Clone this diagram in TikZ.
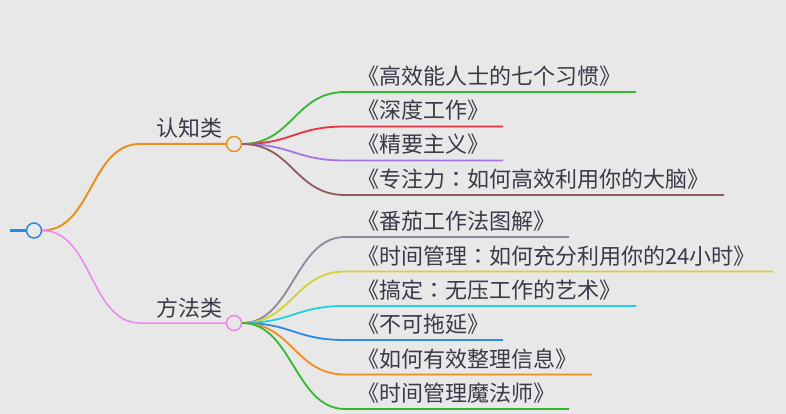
\documentclass[tikz,border=0pt]{standalone}
\usepackage{fontspec}
\newfontfamily\cjk{Noto Sans CJK SC}
\newfontfamily\cjktc{Noto Sans CJK TC}
\newcommand{\zcolon}{{\cjktc ：}}
\definecolor{bg}{HTML}{E8E8E8}
\definecolor{txt}{HTML}{3A3A48}
\definecolor{rootblue}{HTML}{2A8AE0}
\definecolor{corange}{HTML}{E8921E}
\definecolor{cpink}{HTML}{EC88EC}
\definecolor{kgreen}{HTML}{33B833}
\definecolor{kred}{HTML}{E8323E}
\definecolor{kpurple}{HTML}{A474E8}
\definecolor{kbrown}{HTML}{8E5A5A}
\definecolor{kgray}{HTML}{8A8A9C}
\definecolor{kyellow}{HTML}{D2D232}
\definecolor{kcyan}{HTML}{22D0E2}
\definecolor{kblue}{HTML}{2A8AE8}
\definecolor{korange}{HTML}{EE8E1C}
\tikzset{
  dot/.style={circle, draw, line width=1.5pt, minimum size=15pt, inner sep=0pt, fill=bg},
  book/.style={anchor=base west, inner sep=0pt, text=txt, font=\cjk\fontsize{22}{26}\selectfont},
  cat/.style={anchor=base east, inner sep=0pt, text=txt, font=\cjk\fontsize{22}{26}\selectfont},
  link/.style={out=0, in=180, distance=50pt},
  kline/.style={line width=1.8pt},
}
\begin{document}
\begin{tikzpicture}[x=1pt, y=-1pt]
\useasboundingbox[fill=bg] (0,0) rectangle (786,414);
% root
\coordinate (rs) at (10,230.5);
\node[dot, draw=rootblue] (root) at (34,230.5) {};
\draw[rootblue, line width=3pt] (rs) -- (root.west);
% categories
\node[dot, draw=corange] (c1) at (234,144) {};
\node[dot, draw=cpink] (c2) at (234,323) {};
\coordinate (c1s) at (140,144);
\coordinate (c2s) at (140,323);
\node[cat] (c1t) at (223,137) {认知类};
\node[cat] (c2t) at (223,316) {方法类};
\draw[corange, line width=2pt] (root.east) to[link] (c1s) -- (c1.west);
\draw[cpink, line width=1.5pt] (root.east) to[link] (c2s) -- (c2.west);
% top group
\foreach \n/\y/\e/\col/\t in {
  a1/92/636/kgreen/{《高效能人士的七个习惯》},
  a2/126.5/503/kred/{《深度工作》},
  a3/160.5/503/kpurple/{《精要主义》},
  a4/195/724/kbrown/{《专注力\zcolon 如何高效利用你的大脑》}}{
  \coordinate (\n s) at (345,\y);
  \coordinate (\n e) at (\e,\y);
  \node[book] (\n) at (357,\y-7.5) {\t};
  \draw[kline, \col] (c1.east) to[link] (\n s) -- (\n e);
}
% bottom group
\foreach \n/\y/\e/\col/\t in {
  b1/237/569/kgray/{《番茄工作法图解》},
  b2/271.5/773/kyellow/{《时间管理\zcolon 如何充分利用你的24小时》},
  b3/306/636/kcyan/{《搞定\zcolon 无压工作的艺术》},
  b4/340/503/kblue/{《不可拖延》},
  b5/374.5/592/korange/{《如何有效整理信息》},
  b6/409/569/kgreen/{《时间管理魔法师》}}{
  \coordinate (\n s) at (345,\y);
  \coordinate (\n e) at (\e,\y);
  \node[book] (\n) at (357,\y-7.5) {\t};
  \draw[kline, \col] (c2.east) to[link] (\n s) -- (\n e);
}
\end{tikzpicture}
\end{document}
